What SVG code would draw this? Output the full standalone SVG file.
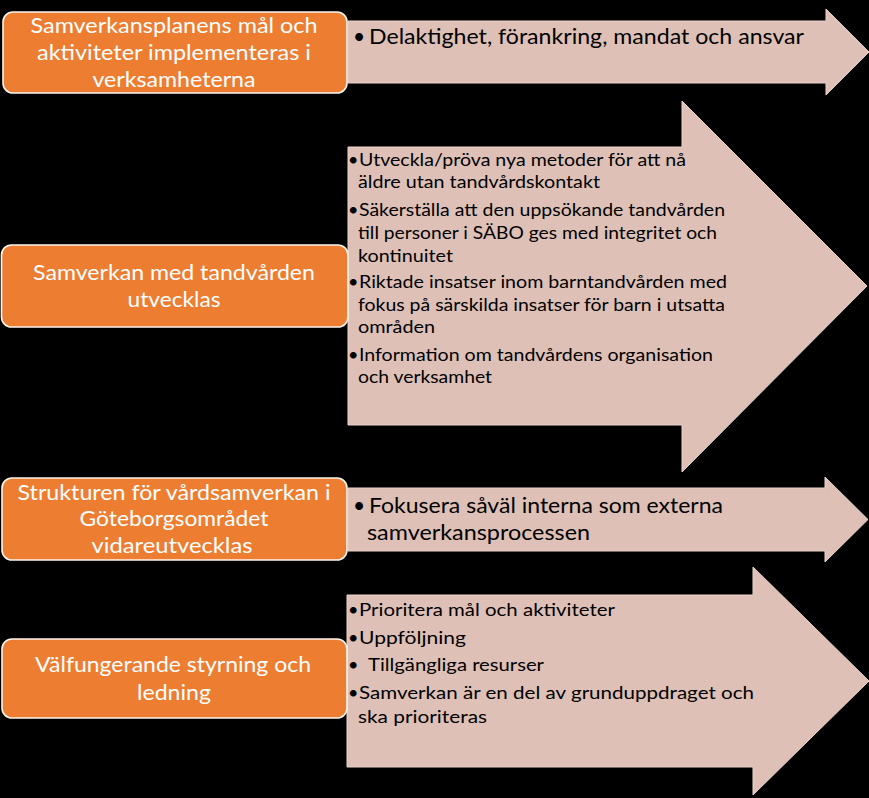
<svg xmlns="http://www.w3.org/2000/svg" width="869" height="798" viewBox="0 0 869 798">
<style>
.arrow{fill:#DEC0B6;stroke:#E9D4CC;stroke-width:1}
.box{fill:#ED7D31;stroke:#FFF6EE;stroke-width:1.6}
.bt{font-family:Lato,"Open Sans","Liberation Sans",sans-serif;font-size:22px;fill:#FFFFFF;text-anchor:middle}
.at{font-family:Lato,"Open Sans","Liberation Sans",sans-serif;font-size:21px;fill:#000000}
.st{font-family:Lato,"Open Sans","Liberation Sans",sans-serif;font-size:18px;fill:#000000}
</style>
<rect width="869" height="798" fill="#000000"/>
<g id="connectors">
<polygon id="arrow1" class="arrow" points="348,21 826,21 826,9 869,52 826,95 826,83 348,83"/>
<polygon id="arrow2" class="arrow" points="348,147 682,147 682,101 867,286 682,472 682,425 348,425"/>
<polygon id="arrow3" class="arrow" points="348,488 825,488 825,477 868,519.5 825,562 825,551 348,551"/>
<polygon id="arrow4" class="arrow" points="347,595 753,595 753,567 869,681 753,795 753,767 347,767"/>
</g>
<g id="arrow1-text">
<text class="at" x="353" y="44">•</text>
<text class="at" x="369" y="44" textLength="435" lengthAdjust="spacingAndGlyphs">Delaktighet, förankring, mandat och ansvar</text>
</g>
<g id="arrow2-text">
<text class="st" x="348" y="166">•</text>
<text class="st" x="359" y="166" textLength="327" lengthAdjust="spacingAndGlyphs">Utveckla/pröva nya metoder för att nå</text>
<text class="st" x="358" y="188" textLength="242" lengthAdjust="spacingAndGlyphs">äldre utan tandvårdskontakt</text>
<text class="st" x="348" y="216">•</text>
<text class="st" x="359" y="216" textLength="366" lengthAdjust="spacingAndGlyphs">Säkerställa att den uppsökande tandvården</text>
<text class="st" x="358" y="239" textLength="359" lengthAdjust="spacingAndGlyphs">till personer i SÄBO ges med integritet och</text>
<text class="st" x="358" y="262" textLength="95" lengthAdjust="spacingAndGlyphs">kontinuitet</text>
<text class="st" x="348" y="288">•</text>
<text class="st" x="359" y="288" textLength="368" lengthAdjust="spacingAndGlyphs">Riktade insatser inom barntandvården med</text>
<text class="st" x="358" y="311" textLength="367" lengthAdjust="spacingAndGlyphs">fokus på särskilda insatser för barn i utsatta</text>
<text class="st" x="358" y="333" textLength="77" lengthAdjust="spacingAndGlyphs">områden</text>
<text class="st" x="348" y="361">•</text>
<text class="st" x="359" y="361" textLength="354" lengthAdjust="spacingAndGlyphs">Information om tandvårdens organisation</text>
<text class="st" x="358" y="383" textLength="134" lengthAdjust="spacingAndGlyphs">och verksamhet</text>
</g>
<g id="arrow3-text">
<text class="at" x="353" y="513">•</text>
<text class="at" x="369" y="513" textLength="354" lengthAdjust="spacingAndGlyphs">Fokusera såväl interna som externa</text>
<text class="at" x="367" y="540" textLength="223" lengthAdjust="spacingAndGlyphs">samverkansprocessen</text>
</g>
<g id="arrow4-text">
<text class="st" x="348" y="616">•</text>
<text class="st" x="359" y="616" textLength="256" lengthAdjust="spacingAndGlyphs">Prioritera mål och aktiviteter</text>
<text class="st" x="348" y="644">•</text>
<text class="st" x="359" y="644" textLength="107" lengthAdjust="spacingAndGlyphs">Uppföljning</text>
<text class="st" x="348" y="671">•</text>
<text class="st" x="368" y="671" textLength="176" lengthAdjust="spacingAndGlyphs">Tillgängliga resurser</text>
<text class="st" x="348" y="699">•</text>
<text class="st" x="359" y="699" textLength="395" lengthAdjust="spacingAndGlyphs">Samverkan är en del av grunduppdraget och</text>
<text class="st" x="358" y="723" textLength="129" lengthAdjust="spacingAndGlyphs">ska prioriteras</text>
</g>
<g id="box1">
<rect class="box" x="3" y="12" width="344" height="81" rx="10"/>
<text class="bt" x="174" y="33" textLength="287" lengthAdjust="spacingAndGlyphs">Samverkansplanens mål och</text>
<text class="bt" x="174" y="60" textLength="274" lengthAdjust="spacingAndGlyphs">aktiviteter implementeras i</text>
<text class="bt" x="174" y="87" textLength="163" lengthAdjust="spacingAndGlyphs">verksamheterna</text>
</g>
<g id="box2">
<rect class="box" x="1.5" y="245" width="346.5" height="82" rx="10"/>
<text class="bt" x="174" y="280" textLength="282" lengthAdjust="spacingAndGlyphs">Samverkan med tandvården</text>
<text class="bt" x="174" y="307" textLength="93" lengthAdjust="spacingAndGlyphs">utvecklas</text>
</g>
<g id="box3">
<rect class="box" x="2" y="478" width="345" height="82" rx="10"/>
<text class="bt" x="174" y="500" textLength="313" lengthAdjust="spacingAndGlyphs">Strukturen för vårdsamverkan i</text>
<text class="bt" x="174" y="526" textLength="189" lengthAdjust="spacingAndGlyphs">Göteborgsområdet</text>
<text class="bt" x="172" y="553" textLength="161" lengthAdjust="spacingAndGlyphs">vidareutvecklas</text>
</g>
<g id="box4">
<rect class="box" x="2" y="639" width="345" height="79" rx="10"/>
<text class="bt" x="173" y="672" textLength="276" lengthAdjust="spacingAndGlyphs">Välfungerande styrning och</text>
<text class="bt" x="174" y="700" textLength="74" lengthAdjust="spacingAndGlyphs">ledning</text>
</g>
</svg>
